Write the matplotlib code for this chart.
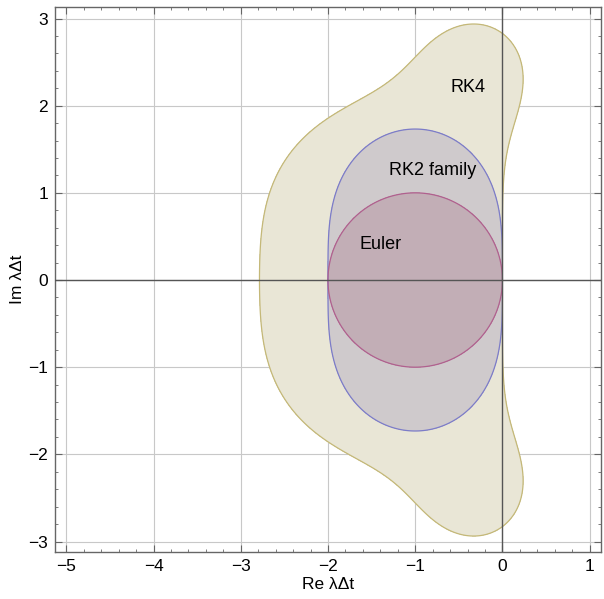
import numpy as np
import matplotlib
matplotlib.use("Agg")
import matplotlib.pyplot as plt
from matplotlib.ticker import MultipleLocator

plt.rcParams['font.family'] = ['Liberation Sans', 'DejaVu Sans']

# Stability polynomials R(z) = sum c_k z^k (coefficients in ascending order)
euler_coeffs = [1, 1]
rk2_coeffs = [1, 1, 1/2]
rk4_coeffs = [1, 1, 1/2, 1/6, 1/24]

region_names = ["RK4", "RK2 family", "Euler"]
region_coeffs = [rk4_coeffs, rk2_coeffs, euler_coeffs]
fill_colors = ["#E9E6D6", "#CFCACC", "#C2AEB6"]
edge_colors = ["#C4B878", "#7C7CC8", "#B0608E"]
label_pos = [(-0.40, 2.21), (-0.80, 1.26), (-1.40, 0.41)]

x_ticks = [-5, -4, -3, -2, -1, 0, 1]
y_ticks = [-3, -2, -1, 0, 1, 2, 3]
x_lim = (-5.13, 1.13)
y_lim = (-3.12, 3.13)

fig = plt.figure(figsize=(6.04, 5.99), dpi=100)
ax = fig.add_axes([0.091, 0.0785, 0.904, 0.9095])

re = np.linspace(x_lim[0], x_lim[1], 1200)
im = np.linspace(y_lim[0], y_lim[1], 1200)
RE, IM = np.meshgrid(re, im)
Z = RE + 1j * IM

for name, coeffs, fc, ec in zip(region_names, region_coeffs, fill_colors, edge_colors):
    amp = np.abs(np.polynomial.polynomial.polyval(Z, coeffs))
    ax.contourf(RE, IM, amp, levels=[0, 1], colors=[fc], zorder=2)
    ax.contour(RE, IM, amp, levels=[1], colors=[ec], linewidths=0.9, zorder=3)

for name, (tx, ty) in zip(region_names, label_pos):
    ax.text(tx, ty, name, fontsize=13, ha='center', va='center', zorder=5)

# grid and coordinate axes
for v in x_ticks:
    ax.axvline(v, color='#C8C8C8', lw=0.8, zorder=1)
for v in y_ticks:
    ax.axhline(v, color='#C8C8C8', lw=0.8, zorder=1)
ax.axvline(0, color='#555555', lw=1.0, zorder=4)
ax.axhline(0, color='#555555', lw=1.0, zorder=4)

ax.set_xlim(*x_lim)
ax.set_ylim(*y_lim)
ax.set_xticks(x_ticks)
ax.set_yticks(y_ticks)
ax.set_xticklabels([str(t).replace('-', '\u2212') for t in x_ticks])
ax.set_yticklabels([str(t).replace('-', '\u2212') for t in y_ticks])
ax.xaxis.set_minor_locator(MultipleLocator(0.2))
ax.yaxis.set_minor_locator(MultipleLocator(0.2))
ax.tick_params(which='both', direction='in', top=True, right=True, color='#666666',
               labelsize=12.5, labelcolor='black')
ax.tick_params(which='major', length=5, width=0.8, pad=5)
ax.tick_params(which='minor', length=2.5, width=0.6)
for s in ax.spines.values():
    s.set_color('#666666')
    s.set_linewidth(1.0)

ax.set_xlabel("Re \u03bb\u0394t", fontsize=12.5, labelpad=2)
ax.set_ylabel("Im \u03bb\u0394t", fontsize=12.5, labelpad=2)

fig.savefig("out.png", dpi=100)
